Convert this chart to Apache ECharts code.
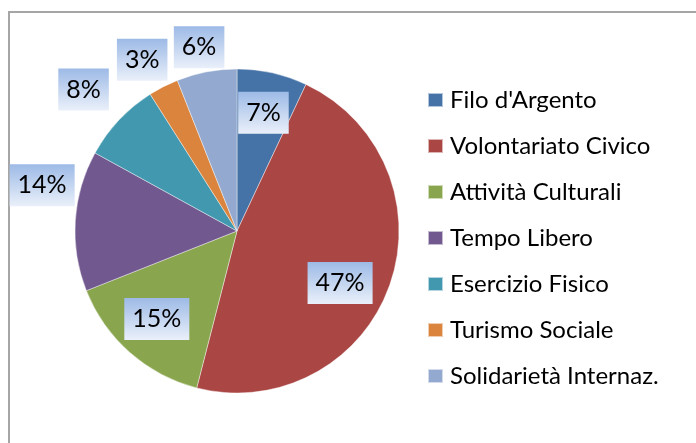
<!DOCTYPE html>
<html>
<head>
<meta charset="utf-8">
<script src="https://cdn.jsdelivr.net/npm/echarts@6/dist/echarts.min.js"></script>
<style>
    html, body { margin: 0; padding: 0; background: #fff; overflow: hidden; }
    #frame { position: absolute; left: 8px; top: 11px; width: 800px; height: 600px; border: 2px solid #a6a6a6; }
    #chart { position: absolute; left: 0; top: 0; width: 696px; height: 443px; }
</style>
</head>
<body>
<div id="frame"></div>
<div id="chart"></div>
<script>
// dati del grafico
var categorie = ['Filo d\'Argento', 'Volontariato Civico', 'Attività Culturali', 'Tempo Libero',
    'Esercizio Fisico', 'Turismo Sociale', 'Solidarietà Internaz.'];
var percentuali = [7, 47, 15, 14, 8, 3, 6];
var colori = ['#4572a7', '#aa4643', '#89a54e', '#71588f', '#4198af', '#db843d', '#93a9cf'];
// etichette dentro la torta (gli altri fuori)
var etichetteInterne = [true, true, true, false, false, false, false];

var myChart = echarts.init(document.getElementById('chart'));

var centro = [237, 231];
var raggio = 162;
// piccoli spostamenti delle etichette, come nel "best fit" di Excel
var spostamenti = [[0, 0], [-11, 11], [0, -3], [7, -33], [-6, -3], [-3, 9], [0, 15]];

var boxLabel = {
    show: true,
    color: '#000',
    fontFamily: 'Lato',
    fontSize: 25,
    lineHeight: 26,
    padding: [8, 8, 8, 8],
    backgroundColor: new echarts.graphic.LinearGradient(0, 0, 0, 1, [
        {offset: 0, color: '#9dbae6'},
        {offset: 1, color: '#eaf0fa'}
    ]),
    formatter: '{c}%'
};

function datiEtichette(interne) {
    return categorie.map(function (nome, i) {
        return {
            name: nome,
            value: percentuali[i],
            label: {show: etichetteInterne[i] === interne, offset: spostamenti[i]}
        };
    });
}

var option = {
    animation: false,
    color: colori,
    legend: {
        orient: 'vertical',
        left: 427,
        top: 87,
        padding: 0,
        itemWidth: 15,
        itemHeight: 14,
        itemGap: 20,
        icon: 'rect',
        selectedMode: false,
        textStyle: {
            fontFamily: 'Lato',
            fontSize: 24,
            lineHeight: 26,
            color: '#000',
            padding: [0, 0, 0, 2]
        },
        data: categorie
    },
    series: [
        {
            name: 'torta',
            type: 'pie',
            center: centro,
            radius: raggio,
            startAngle: 90,
            clockwise: true,
            avoidLabelOverlap: false,
            label: {show: false},
            labelLine: {show: false},
            itemStyle: {
                borderColor: 'rgba(255,255,255,0.6)',
                borderWidth: 0.7
            },
            emphasis: {disabled: true},
            data: categorie.map(function (nome, i) {
                return {name: nome, value: percentuali[i]};
            })
        },
        {
            // solo etichette interne
            name: 'etichette interne',
            type: 'pie',
            center: centro,
            radius: raggio * 1.46,
            startAngle: 90,
            silent: true,
            z: 5,
            avoidLabelOverlap: false,
            itemStyle: {color: 'rgba(0,0,0,0)'},
            label: Object.assign({position: 'inside'}, boxLabel),
            labelLine: {show: false},
            data: datiEtichette(true)
        },
        {
            // solo etichette esterne
            name: 'etichette esterne',
            type: 'pie',
            center: centro,
            radius: raggio * 2.46,
            startAngle: 90,
            silent: true,
            z: 5,
            avoidLabelOverlap: false,
            itemStyle: {color: 'rgba(0,0,0,0)'},
            label: Object.assign({position: 'inside'}, boxLabel),
            labelLine: {show: false},
            data: datiEtichette(false)
        }
    ]
};

myChart.setOption(option);
</script>
</body>
</html>
